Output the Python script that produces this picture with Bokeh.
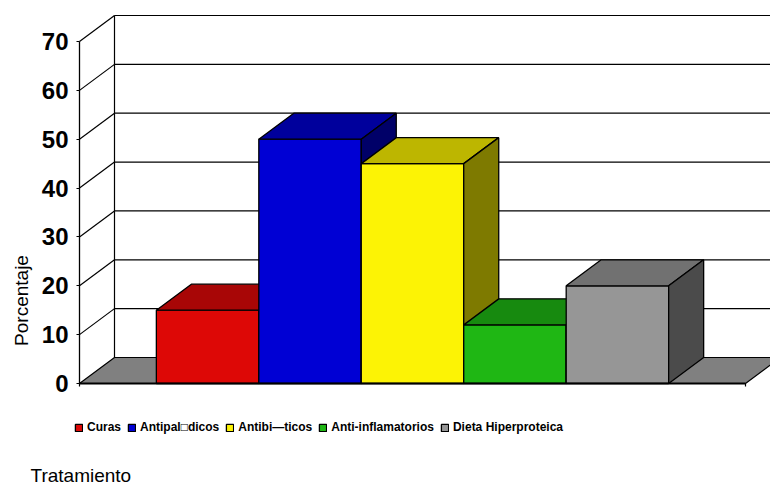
import math
from bokeh.plotting import figure
from bokeh.models import ColumnDataSource, Range1d, FixedTicker, Legend, LegendItem, Label
from bokeh.embed import file_html
from bokeh.resources import INLINE

# --- data -------------------------------------------------------------
series = ["Curas", "Antipal\u25a1dicos", "Antibi\u2014ticos", "Anti-inflamatorios", "Dieta Hiperproteica"]
porcentaje = [15, 50, 45, 12, 20]
y_ticks = [0, 10, 20, 30, 40, 50, 60, 70]
front_colors = ["#DD0806", "#0000D4", "#FCF305", "#1FB714", "#969696"]
top_colors = ["#A80606", "#00009C", "#BDB600", "#178A0F", "#717171"]
side_colors = ["#6F0403", "#000068", "#7E7A00", "#0F5C0A", "#4B4B4B"]

# --- layout -----------------------------------------------------------
W, H = 770, 486
LEFT = 79              # front vertical axis (px)
FLOOR_W = 666          # width of front floor edge (px)
Y0, YTOP = 383, 41     # pixel rows of 0 and 70
Y_MAX = 70
DEPTH_X, DEPTH_Y = 35, 26   # 3-D depth offset (px)

upp_y = Y_MAX / (Y0 - YTOP)
dx = DEPTH_X / FLOOR_W
dy = DEPTH_Y * upp_y
x_start = -LEFT / FLOOR_W
x_end = (W - LEFT) / FLOOR_W

FONT = "Liberation Sans"

p = figure(width=W, height=H, output_backend="svg", toolbar_location=None,
           x_range=Range1d(x_start, x_end),
           y_range=Range1d(-(H - Y0) * upp_y, Y_MAX + YTOP * upp_y),
           x_axis_location=None, min_border_left=0, min_border_right=0,
           min_border_top=0, min_border_bottom=0)
p.grid.visible = False
p.outline_line_color = None
p.background_fill_color = "white"
p.border_fill_color = "white"

# value axis sits on the front-left edge of the 3-D box
ax = p.yaxis[0]
ax.fixed_location = 0
ax.ticker = FixedTicker(ticks=y_ticks)
ax.bounds = (0, Y_MAX)
ax.axis_line_width = 1.3
ax.axis_line_color = "black"
ax.major_tick_out = 3
ax.major_tick_in = 0
ax.major_tick_line_color = "black"
ax.minor_tick_line_color = None
ax.major_label_text_font = FONT
ax.major_label_text_font_size = "24px"
ax.major_label_text_font_style = "bold"
ax.major_label_text_color = "black"
ax.major_label_standoff = 8

# --- walls and floor --------------------------------------------------
grid_vals = [v for v in y_ticks if v > 0]
# back wall gridlines
p.segment(x0=[dx] * len(grid_vals), y0=[v + dy for v in grid_vals],
          x1=[x_end + 1] * len(grid_vals), y1=[v + dy for v in grid_vals],
          line_color="black", line_width=1.2)
# side wall diagonals
p.segment(x0=[0] * len(grid_vals), y0=grid_vals,
          x1=[dx] * len(grid_vals), y1=[v + dy for v in grid_vals],
          line_color="black", line_width=1.2)
# back wall left edge
p.segment(x0=[dx], y0=[dy], x1=[dx], y1=[Y_MAX + dy], line_color="black", line_width=1.2)
# floor
p.patch(x=[0, 1, 1 + dx, dx], y=[0, 0, dy, dy], fill_color="#808080",
        line_color="black", line_width=1.2)
# category axis ticks
tick_len = 3 * upp_y
p.segment(x0=[0, 1], y0=[0, 0], x1=[0, 1], y1=[-tick_len, -tick_len],
          line_color="black", line_width=1.2)

# --- bars -------------------------------------------------------------
n = len(series)
bw = 1 / (n + 1.5)
lefts = [(0.75 + i) * bw for i in range(n)]
rights = [l + bw for l in lefts]

front_renderers = []
for i in range(n):
    v = porcentaje[i]
    l, r = lefts[i], rights[i]
    src = ColumnDataSource(dict(left=[l], right=[r], top=[v], bottom=[0]))
    fr = p.quad(left="left", right="right", top="top", bottom="bottom", source=src,
                fill_color=front_colors[i], line_color="black", line_width=1.3)
    front_renderers.append(fr)
    p.patch(x=[l, r, r + dx, l + dx], y=[v, v, v + dy, v + dy],
            fill_color=top_colors[i], line_color="black", line_width=1.3)
    p.patch(x=[r, r, r + dx, r + dx], y=[0, v, v + dy, dy],
            fill_color=side_colors[i], line_color="black", line_width=1.3)

# front floor edge
p.segment(x0=[0], y0=[0], x1=[1], y1=[0], line_color="black", line_width=2)

# --- legend -----------------------------------------------------------
legend = Legend(items=[LegendItem(label=s, renderers=[r]) for s, r in zip(series, front_renderers)],
                orientation="horizontal", location=(74, 52),
                glyph_width=9, glyph_height=9, label_standoff=4, spacing=6,
                label_height=14, padding=0, margin=0,
                border_line_color=None, background_fill_alpha=0,
                label_text_font=FONT, label_text_font_size="12px",
                label_text_font_style="bold", label_text_color="black")
p.add_layout(legend, "center")

# --- axis titles ------------------------------------------------------
p.add_layout(Label(x=21, y=H - 300, x_units="screen", y_units="screen",
                   text="Porcentaje", angle=math.pi / 2, text_font=FONT,
                   text_font_size="19px", text_color="black",
                   text_align="center", text_baseline="middle"))
p.add_layout(Label(x=30, y=1, x_units="screen", y_units="screen",
                   text="Tratamiento", text_font=FONT, text_font_size="19px",
                   text_color="black", text_baseline="bottom"))

open("out.html", "w").write(file_html(p, INLINE))
